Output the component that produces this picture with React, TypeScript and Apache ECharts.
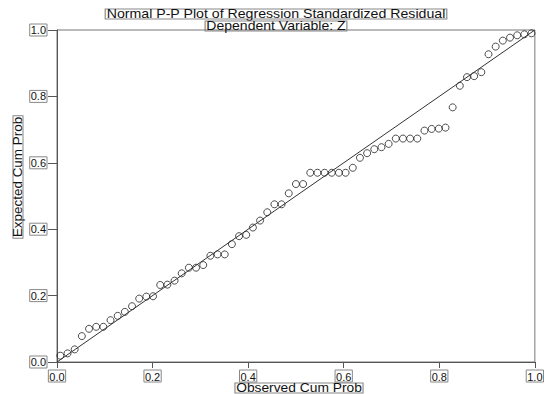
import React, { useEffect, useRef } from "react";
import * as echarts from "echarts";

const observedCumProb = [
  0.007, 0.022, 0.037, 0.052, 0.067, 0.082, 0.097, 0.112, 0.127, 0.142,
  0.157, 0.172, 0.187, 0.201, 0.216, 0.231, 0.246, 0.261, 0.276, 0.291,
  0.306, 0.321, 0.336, 0.351, 0.366, 0.381, 0.396, 0.41, 0.425, 0.44,
  0.455, 0.47, 0.485, 0.5, 0.515, 0.53, 0.545, 0.56, 0.575, 0.59,
  0.604, 0.619, 0.634, 0.649, 0.664, 0.679, 0.694, 0.709, 0.724, 0.739,
  0.754, 0.769, 0.784, 0.799, 0.813, 0.828, 0.843, 0.858, 0.873, 0.888,
  0.903, 0.918, 0.933, 0.948, 0.963, 0.978, 0.993,
];

const expectedCumProb = [
  0.019, 0.026, 0.038, 0.078, 0.1, 0.106, 0.106, 0.126, 0.139, 0.151,
  0.168, 0.191, 0.197, 0.198, 0.232, 0.233, 0.245, 0.267, 0.284, 0.284,
  0.292, 0.32, 0.324, 0.324, 0.355, 0.379, 0.383, 0.405, 0.426, 0.451,
  0.475, 0.475, 0.508, 0.536, 0.536, 0.57, 0.57, 0.57, 0.57, 0.57,
  0.57, 0.585, 0.615, 0.629, 0.641, 0.647, 0.657, 0.673, 0.673, 0.673,
  0.673, 0.697, 0.702, 0.703, 0.706, 0.767, 0.832, 0.858, 0.861, 0.873,
  0.927, 0.95, 0.968, 0.977, 0.984, 0.987, 0.99,
];

const tickLabels = ["0.0", "0.2", "0.4", "0.6", "0.8", "1.0"];
const referenceLine = [
  [0, 0],
  [1, 1],
];

const titleText = "Normal P-P Plot of Regression Standardized Residual";
const subtitleText = "Dependent Variable: Z";
const xName = "Observed Cum Prob";
const yName = "Expected Cum Prob";

const FONT = '"Liberation Sans", Arial, sans-serif';

export default function App() {
  const ref = useRef<HTMLDivElement>(null);

  useEffect(() => {
    if (!ref.current) return;
    const chart = echarts.init(ref.current, undefined, { renderer: "svg" });
    const labelFmt = (v: number) => tickLabels[Math.round(v / 0.2)] ?? "";
    const boxLabel = {
      fontFamily: FONT,
      fontSize: 11,
      color: "#111",
      borderColor: "#888",
      borderWidth: 1,
      padding: [1, 1, 0, 1],
      lineHeight: 11,
    };
    const boxText = (extra: any) => ({
      type: "text",
      silent: true,
      ...extra,
      style: {
        font: `12px ${FONT}`,
        fill: "#111",
        borderColor: "#888",
        borderWidth: 1,
        padding: [0, 1, 0, 1],
        lineHeight: 10,
        align: "center",
        verticalAlign: "middle",
        ...extra.style,
      },
    });
    chart.setOption({
      animation: false,
      backgroundColor: "#ffffff",
      grid: {
        left: 57,
        right: 6,
        top: 30,
        bottom: 32,
        show: true,
        borderColor: "#777",
        borderWidth: 1,
      },
      xAxis: {
        type: "value",
        min: 0,
        max: 1,
        interval: 0.2,
        axisLine: { show: true, lineStyle: { color: "#555", width: 1 } },
        axisTick: { show: true, length: 6, lineStyle: { color: "#555" } },
        splitLine: { show: false },
        axisLabel: { ...boxLabel, margin: 8, formatter: labelFmt },
      },
      yAxis: {
        type: "value",
        min: 0,
        max: 1,
        interval: 0.2,
        axisLine: { show: true, lineStyle: { color: "#555", width: 1 } },
        axisTick: { show: true, length: 9, lineStyle: { color: "#555" } },
        splitLine: { show: false },
        axisLabel: { ...boxLabel, margin: 10, formatter: labelFmt },
      },
      series: [
        {
          type: "line",
          data: referenceLine,
          symbol: "none",
          silent: true,
          lineStyle: { color: "#333", width: 1 },
          z: 3,
        },
        {
          type: "scatter",
          data: observedCumProb.map((x, i) => [x, expectedCumProb[i]]),
          symbol: "circle",
          symbolSize: 7,
          itemStyle: {
            color: "rgba(255,255,255,0)",
            borderColor: "#222",
            borderWidth: 1,
          },
          z: 2,
        },
      ],
      graphic: [
        boxText({ x: 276, y: 14, scaleX: 1.18, style: { text: titleText } }),
        boxText({ x: 276, y: 26, scaleX: 1.17, style: { text: subtitleText } }),
        boxText({ x: 299, y: 388, scaleX: 1.15, style: { text: xName } }),
        boxText({ x: 18, y: 177, scaleX: 1.12, rotation: Math.PI / 2, style: { text: yName } }),
      ],
    });
    return () => chart.dispose();
  }, []);

  return (
    <div
      ref={ref}
      style={{
        position: "fixed",
        left: 0,
        top: 0,
        width: 547,
        height: 394,
        background: "#fff",
      }}
    />
  );
}
